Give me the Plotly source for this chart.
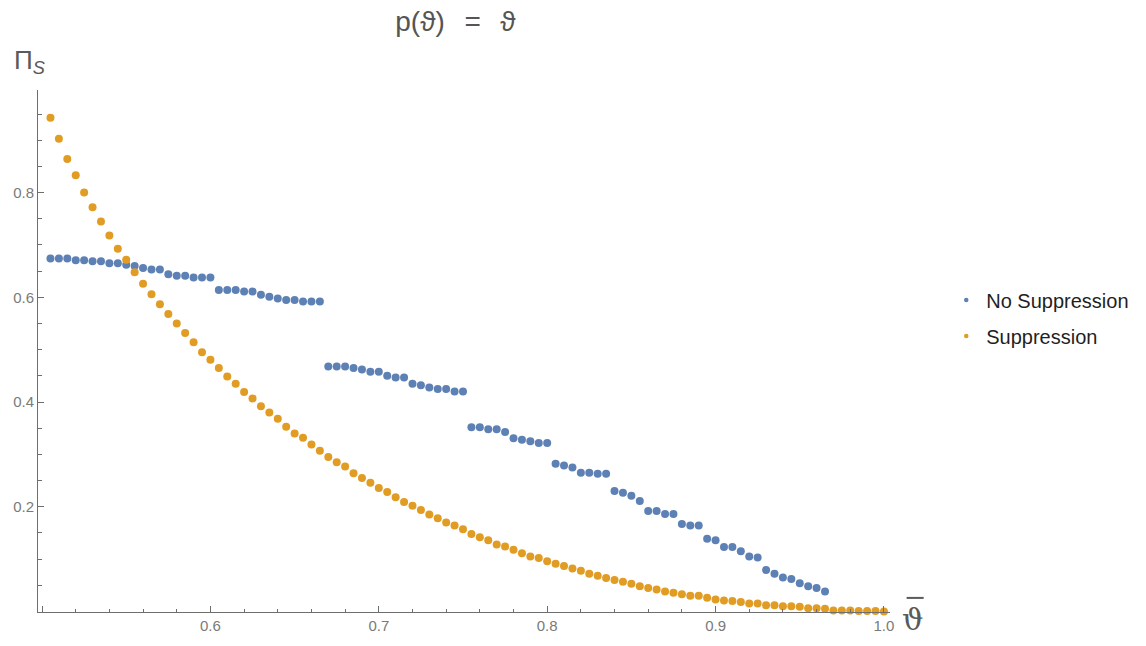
import plotly.graph_objects as go

# Grid of theta-bar values for each series
theta_suppression = [
    0.505, 0.510, 0.515, 0.520, 0.525, 0.530, 0.535, 0.540, 0.545, 0.550,
    0.555, 0.560, 0.565, 0.570, 0.575, 0.580, 0.585, 0.590, 0.595, 0.600,
    0.605, 0.610, 0.615, 0.620, 0.625, 0.630, 0.635, 0.640, 0.645, 0.650,
    0.655, 0.660, 0.665, 0.670, 0.675, 0.680, 0.685, 0.690, 0.695, 0.700,
    0.705, 0.710, 0.715, 0.720, 0.725, 0.730, 0.735, 0.740, 0.745, 0.750,
    0.755, 0.760, 0.765, 0.770, 0.775, 0.780, 0.785, 0.790, 0.795, 0.800,
    0.805, 0.810, 0.815, 0.820, 0.825, 0.830, 0.835, 0.840, 0.845, 0.850,
    0.855, 0.860, 0.865, 0.870, 0.875, 0.880, 0.885, 0.890, 0.895, 0.900,
    0.905, 0.910, 0.915, 0.920, 0.925, 0.930, 0.935, 0.940, 0.945, 0.950,
    0.955, 0.960, 0.965, 0.970, 0.975, 0.980, 0.985, 0.990, 0.995, 1.000,
]
pi_suppression = [
    0.943, 0.903, 0.864, 0.833, 0.800, 0.772, 0.745, 0.718, 0.693, 0.672,
    0.648, 0.626, 0.606, 0.587, 0.568, 0.550, 0.532, 0.514, 0.495, 0.481,
    0.465, 0.449, 0.435, 0.419, 0.407, 0.392, 0.380, 0.368, 0.353, 0.340,
    0.332, 0.319, 0.307, 0.295, 0.285, 0.277, 0.264, 0.255, 0.246, 0.236,
    0.228, 0.218, 0.209, 0.202, 0.194, 0.185, 0.178, 0.170, 0.164, 0.157,
    0.148, 0.142, 0.136, 0.128, 0.124, 0.118, 0.111, 0.105, 0.102, 0.096,
    0.091, 0.087, 0.082, 0.078, 0.072, 0.068, 0.064, 0.060, 0.057, 0.053,
    0.048, 0.045, 0.042, 0.038, 0.036, 0.033, 0.030, 0.030, 0.026, 0.023,
    0.021, 0.020, 0.018, 0.015, 0.015, 0.012, 0.012, 0.010, 0.010, 0.009,
    0.006, 0.006, 0.005, 0.002, 0.002, 0.002, 0.001, 0.001, 0.001, 0.000,
]

theta_no_suppression = [
    0.505, 0.510, 0.515, 0.520, 0.525, 0.530, 0.535, 0.540, 0.545, 0.550,
    0.555, 0.560, 0.565, 0.570, 0.575, 0.580, 0.585, 0.590, 0.595, 0.600,
    0.605, 0.610, 0.615, 0.620, 0.625, 0.630, 0.635, 0.640, 0.645, 0.650,
    0.655, 0.660, 0.665, 0.670, 0.675, 0.680, 0.685, 0.690, 0.695, 0.700,
    0.705, 0.710, 0.715, 0.720, 0.725, 0.730, 0.735, 0.740, 0.745, 0.750,
    0.755, 0.760, 0.765, 0.770, 0.775, 0.780, 0.785, 0.790, 0.795, 0.800,
    0.805, 0.810, 0.815, 0.820, 0.825, 0.830, 0.835, 0.840, 0.845, 0.850,
    0.855, 0.860, 0.865, 0.870, 0.875, 0.880, 0.885, 0.890, 0.895, 0.900,
    0.905, 0.910, 0.915, 0.920, 0.925, 0.930, 0.935, 0.940, 0.945, 0.950,
    0.955, 0.960, 0.965,
]
pi_no_suppression = [
    0.674, 0.674, 0.674, 0.671, 0.671, 0.669, 0.669, 0.665, 0.665, 0.662,
    0.660, 0.656, 0.653, 0.653, 0.644, 0.641, 0.641, 0.638, 0.638, 0.638,
    0.614, 0.614, 0.614, 0.611, 0.611, 0.605, 0.601, 0.598, 0.595, 0.595,
    0.592, 0.592, 0.592, 0.468, 0.468, 0.468, 0.465, 0.462, 0.458, 0.458,
    0.450, 0.447, 0.447, 0.435, 0.432, 0.428, 0.425, 0.425, 0.420, 0.420,
    0.352, 0.352, 0.348, 0.348, 0.343, 0.331, 0.328, 0.325, 0.322, 0.322,
    0.282, 0.279, 0.275, 0.265, 0.265, 0.263, 0.263, 0.230, 0.227, 0.221,
    0.211, 0.192, 0.192, 0.186, 0.186, 0.167, 0.164, 0.164, 0.139, 0.136,
    0.123, 0.123, 0.115, 0.105, 0.103, 0.079, 0.072, 0.065, 0.062, 0.054,
    0.048, 0.045, 0.038,
]

series_names = ["No Suppression", "Suppression"]
series_colors = ["#5E81B5", "#E19C24"]

x_tick_vals = [0.5, 0.6, 0.7, 0.8, 0.9, 1.0]
x_tick_text = ["", "0.6", "0.7", "0.8", "0.9", "1.0"]
y_tick_vals = [0.2, 0.4, 0.6, 0.8]
y_tick_text = ["0.2", "0.4", "0.6", "0.8"]

AXIS = "#6e6e6e"
TICKFONT = dict(family="Liberation Sans, Arial, sans-serif", size=15, color="#7a7a7a")
LABELFONT = dict(family="Liberation Sans, DejaVu Sans, sans-serif", size=26, color="#5a5a5a")

fig = go.Figure()

for xs, ys, name, color in [
    (theta_no_suppression, pi_no_suppression, series_names[0], series_colors[0]),
    (theta_suppression, pi_suppression, series_names[1], series_colors[1]),
]:
    fig.add_trace(go.Scatter(
        x=xs, y=ys, mode="markers", name=name, showlegend=False,
        cliponaxis=False,
        marker=dict(color=color, size=8, line=dict(width=0)),
    ))

# small legend-only markers
for i, (name, color) in enumerate(zip(series_names, series_colors)):
    fig.add_trace(go.Scatter(
        x=[None], y=[None], mode="markers", name=name, legendgroup=f"g{i}",
        marker=dict(color=color, size=4.5),
    ))

fig.update_layout(
    width=1146, height=646,
    margin=dict(l=38, r=251, t=90, b=28),
    paper_bgcolor="white", plot_bgcolor="white",
    title=dict(
        text="p(ϑ)\u2002\u2009=\u2002\u2009ϑ", x=0.49, xref="paper", xanchor="center",
        y=1 - 21 / 646, yanchor="middle",
        font=dict(family="Liberation Sans, DejaVu Sans, sans-serif", size=28, color="#555555"),
    ),
    xaxis=dict(
        range=[0.4976, 1.0036], showgrid=False, zeroline=False,
        showline=True, linecolor=AXIS, linewidth=1,
        ticks="inside", ticklen=6, tickcolor=AXIS, tickwidth=1,
        tickvals=x_tick_vals, ticktext=x_tick_text, tickfont=TICKFONT,
        minor=dict(dtick=0.02, tick0=0.5, ticks="inside", ticklen=3.5,
                   tickcolor=AXIS, showgrid=False),
    ),
    yaxis=dict(
        range=[-0.001, 0.996], showgrid=False, zeroline=False,
        showline=True, linecolor=AXIS, linewidth=1,
        ticks="inside", ticklen=6, tickcolor=AXIS, tickwidth=1,
        tickvals=y_tick_vals, ticktext=y_tick_text, tickfont=TICKFONT,
        minor=dict(dtick=0.05, tick0=0, ticks="inside", ticklen=3.5,
                   tickcolor=AXIS, showgrid=False),
    ),
    legend=dict(
        x=1.066, xanchor="left", y=0.563, yanchor="middle",
        font=dict(family="Liberation Sans, Arial, sans-serif", size=20, color="#1f1f1f"),
        tracegroupgap=7, bgcolor="rgba(0,0,0,0)",
    ),
    annotations=[
        dict(text="Π<sub><i>S</i></sub>", xref="paper", yref="paper",
             x=-0.03, y=1.055, xanchor="left", yanchor="middle",
             showarrow=False, font=LABELFONT),
        dict(text="ϑ", xref="paper", yref="paper",
             x=1.012, y=-0.014, xanchor="left", yanchor="middle",
             showarrow=False,
             font=dict(family="DejaVu Serif, serif", size=30, color="#5a5a5a")),
    ],
    shapes=[
        # bar over the theta axis label
        dict(type="line", xref="paper", yref="paper",
             x0=1.0195, x1=1.0395, y0=0.027, y1=0.027,
             line=dict(color="#5a5a5a", width=2)),
    ],
)

fig.write_html("out.html")
